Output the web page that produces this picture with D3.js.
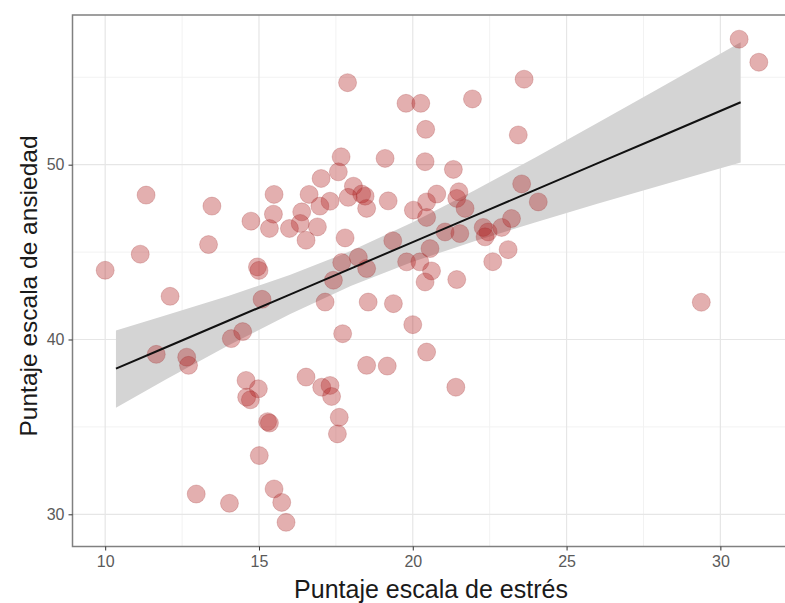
<!DOCTYPE html>
<html>
<head>
<meta charset="utf-8">
<script src="https://cdn.jsdelivr.net/npm/d3@7"></script>
<style>
  html, body { margin: 0; padding: 0; background: #ffffff; }
  svg { display: block; }
</style>
</head>
<body>
<svg id="chart" width="785" height="603"></svg>
<script>
// ---- data ----
const estres = [30.61, 31.25, 17.88, 23.62, 21.94, 19.78, 20.26, 20.42, 23.43, 19.10,
  20.40, 17.67, 17.58, 21.32, 17.02, 11.33, 15.49, 16.63, 18.07, 18.34,
  17.90, 17.31, 16.98, 19.20, 18.50, 15.47, 16.39, 14.74, 15.34, 15.99,
  16.34, 16.90, 16.53, 17.80, 14.95, 15.00, 19.35, 17.69, 18.23, 18.50,
  17.42, 15.10, 17.15, 18.55, 19.37, 17.72, 14.10, 14.47, 13.47, 11.14,
  13.36, 10.00, 12.11, 11.66, 12.65, 12.71, 20.02, 20.45, 20.78, 21.50,
  21.43, 21.70, 20.45, 23.54, 24.08, 21.05, 21.53, 22.29, 22.45, 22.89,
  23.21, 22.35, 20.56, 19.80, 20.23, 20.61, 20.40, 21.43, 22.60, 23.10,
  20.00, 20.45, 29.38, 21.40, 18.50, 19.17, 14.58, 14.98, 14.60, 14.72,
  16.53, 17.04, 17.31, 17.36, 17.61, 17.55, 15.28, 15.34, 15.01, 15.49,
  15.74, 15.88, 14.04, 12.96, 18.45];
const ansiedad = [57.18, 55.86, 54.69, 54.89, 53.76, 53.51, 53.51, 52.02, 51.70, 50.36,
  50.17, 50.45, 49.59, 49.73, 49.21, 48.26, 48.30, 48.30, 48.77, 48.32,
  48.13, 47.91, 47.63, 47.93, 47.50, 47.17, 47.30, 46.77, 46.35, 46.35,
  46.64, 46.44, 45.68, 45.81, 44.15, 43.95, 45.65, 44.40, 44.70, 44.06,
  43.39, 42.30, 42.14, 42.14, 42.05, 40.33, 40.05, 40.45, 47.63, 44.88,
  45.43, 43.96, 42.47, 39.15, 38.99, 38.52, 47.40, 47.87, 48.32, 48.45,
  48.07, 47.50, 46.98, 48.90, 47.87, 46.15, 46.06, 46.41, 46.15, 46.41,
  46.92, 45.87, 45.20, 44.44, 44.44, 43.92, 43.29, 43.43, 44.45, 45.14,
  40.85, 39.28, 42.13, 37.27, 38.52, 38.48, 37.66, 37.18, 36.70, 36.55,
  37.85, 37.27, 37.37, 36.74, 35.55, 34.60, 35.30, 35.22, 33.36, 31.45,
  30.68, 29.54, 30.63, 31.16, 48.20];

// fitted line and 95% band
const fitX     = [10.35, 12, 14, 16, 18, 20, 22, 24, 26, 28, 30.66];
const fitY     = [38.33, 39.57, 41.07, 42.57, 44.07, 45.57, 47.07, 48.57, 50.07, 51.57, 53.57];
const fitLower = [36.10, 37.74, 39.65, 41.45, 43.07, 44.44, 45.62, 46.71, 47.76, 48.78, 50.13];
const fitUpper = [40.52, 41.40, 42.49, 43.69, 45.07, 46.71, 48.52, 50.43, 52.38, 54.36, 57.01];

const xTicks = [10, 15, 20, 25, 30];
const yTicks = [30, 40, 50];
const xMinor = [12.5, 17.5, 22.5, 27.5];
const yMinor = [35, 45, 55];

const xTitle = "Puntaje escala de estrés";
const yTitle = "Puntaje escala de ansiedad";

// ---- layout ----
const svg = d3.select("#chart");
const panel = { left: 72.5, right: 791.5, top: 15, bottom: 546.5 };

function expand(ext) { const d = (ext[1] - ext[0]) * 0.05; return [ext[0] - d, ext[1] + d]; }
const x = d3.scaleLinear().domain(expand(d3.extent(estres))).range([panel.left, panel.right]);
const y = d3.scaleLinear().domain(expand(d3.extent(ansiedad))).range([panel.bottom, panel.top]);

// grid
const g = svg.append("g");
g.selectAll(".xminor").data(xMinor).enter().append("line")
  .attr("x1", d => x(d)).attr("x2", d => x(d)).attr("y1", panel.top).attr("y2", panel.bottom)
  .attr("stroke", "#f2f2f2").attr("stroke-width", 1);
g.selectAll(".yminor").data(yMinor).enter().append("line")
  .attr("y1", d => y(d)).attr("y2", d => y(d)).attr("x1", panel.left).attr("x2", panel.right)
  .attr("stroke", "#f2f2f2").attr("stroke-width", 1);
g.selectAll(".xmajor").data(xTicks).enter().append("line")
  .attr("x1", d => x(d)).attr("x2", d => x(d)).attr("y1", panel.top).attr("y2", panel.bottom)
  .attr("stroke", "#e6e6e6").attr("stroke-width", 1.2);
g.selectAll(".ymajor").data(yTicks).enter().append("line")
  .attr("y1", d => y(d)).attr("y2", d => y(d)).attr("x1", panel.left).attr("x2", panel.right)
  .attr("stroke", "#e6e6e6").attr("stroke-width", 1.2);

// confidence band
const band = fitX.map((d, i) => ({ x: d, lo: fitLower[i], hi: fitUpper[i], f: fitY[i] }));
svg.append("path").datum(band)
  .attr("d", d3.area().x(d => x(d.x)).y0(d => y(d.lo)).y1(d => y(d.hi)))
  .attr("fill", "#d4d4d4");

// points
const pts = estres.map((d, i) => ({ x: d, y: ansiedad[i] }));
svg.append("g").selectAll("circle").data(pts).enter().append("circle")
  .attr("cx", d => x(d.x)).attr("cy", d => y(d.y)).attr("r", 9)
  .attr("fill", "rgba(178,34,34,0.36)")
  .attr("stroke", "rgba(150,30,30,0.22)").attr("stroke-width", 1);

// fitted line
svg.append("path").datum(band)
  .attr("d", d3.line().x(d => x(d.x)).y(d => y(d.f)))
  .attr("fill", "none").attr("stroke", "#111").attr("stroke-width", 2);

// panel border
svg.append("rect")
  .attr("x", panel.left).attr("y", panel.top)
  .attr("width", panel.right - panel.left).attr("height", panel.bottom - panel.top)
  .attr("fill", "none").attr("stroke", "#808080").attr("stroke-width", 1.5);

// axes
const xAxis = svg.append("g").attr("transform", `translate(0,${panel.bottom})`)
  .call(d3.axisBottom(x).tickValues(xTicks).tickSize(4).tickPadding(5));
const yAxis = svg.append("g").attr("transform", `translate(${panel.left},0)`)
  .call(d3.axisLeft(y).tickValues(yTicks).tickSize(4).tickPadding(4));
[xAxis, yAxis].forEach(a => {
  a.select(".domain").remove();
  a.selectAll(".tick line").attr("stroke", "#333").attr("stroke-width", 1);
  a.selectAll(".tick text").attr("fill", "#5a5a5a")
    .style("font-family", "'Liberation Sans', Arial, sans-serif").style("font-size", "16px");
});

// titles
svg.append("text").attr("x", 431).attr("y", 598).attr("text-anchor", "middle")
  .style("font-family", "'Liberation Sans', Arial, sans-serif").style("font-size", "25px")
  .attr("fill", "#1a1a1a").text(xTitle);
svg.append("text").attr("transform", "translate(37,286) rotate(-90)").attr("text-anchor", "middle")
  .style("font-family", "'Liberation Sans', Arial, sans-serif").style("font-size", "24.5px")
  .attr("fill", "#1a1a1a").text(yTitle);
</script>
</body>
</html>
